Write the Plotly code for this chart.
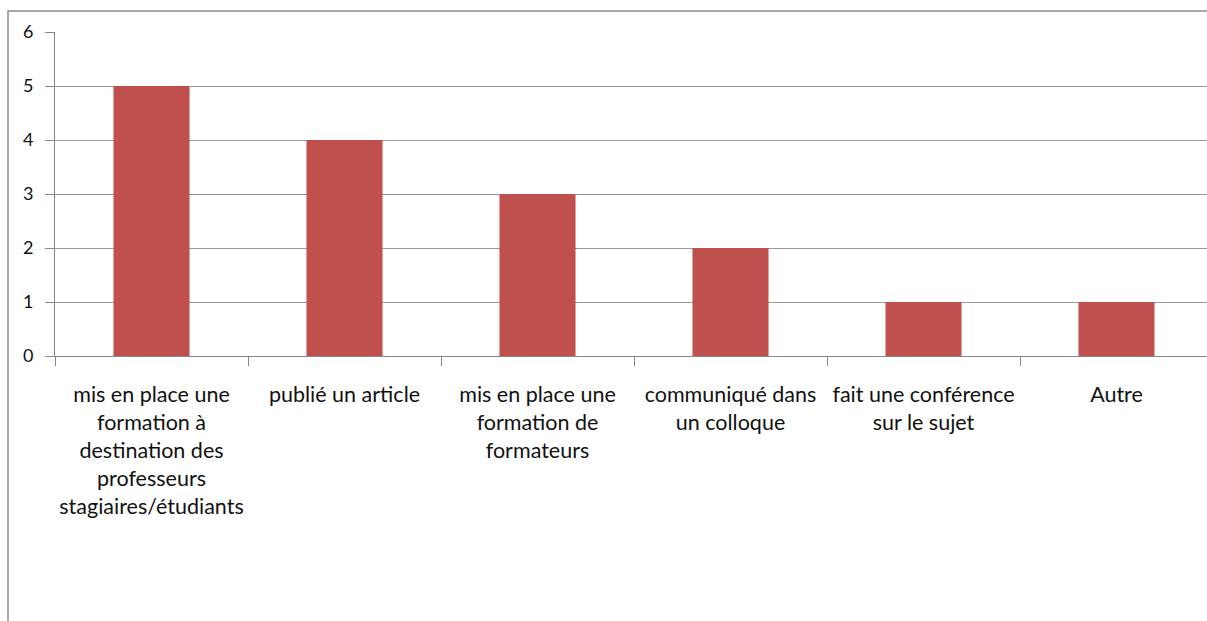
import plotly.graph_objects as go

categories = [
    "mis en place une<br>formation à<br>destination des<br>professeurs<br>stagiaires/étudiants",
    "publié un article",
    "mis en place une<br>formation de<br>formateurs",
    "communiqué dans<br>un colloque",
    "fait une conférence<br>sur le sujet",
    "Autre",
]
values = [5, 4, 3, 2, 1, 1]
y_ticks = [0, 1, 2, 3, 4, 5, 6]

W, H = 1207, 621
L, R, T, B = 55, 0, 32, 265
pw, ph = W - L - R, H - T - B

fig = go.Figure()
fig.add_trace(go.Bar(x=categories, y=values, marker=dict(color="#C0504D", line=dict(width=0))))

xfont = dict(family="Lato, Open Sans, sans-serif", size=21.5, color="#111111")
yfont = dict(family="Lato, Open Sans, sans-serif", size=18, color="#111111")

fig.update_layout(
    width=W, height=H,
    margin=dict(l=L, r=R, t=T, b=B, pad=0),
    paper_bgcolor="white", plot_bgcolor="white",
    bargap=0.606,
    showlegend=False,
    font=xfont,
    xaxis=dict(
        type="category",
        range=[-0.5, -0.5 + pw / 193.0],
        tickson="boundaries",
        ticks="outside", ticklen=9, tickcolor="#868686", tickwidth=1,
        showline=True, linecolor="#868686", linewidth=1,
        showgrid=False, tickangle=0,
        tickfont=xfont,
        ticklabelstandoff=19,
    ),
    yaxis=dict(
        range=[0, 6], tickvals=y_ticks,
        ticks="outside", ticklen=9, tickcolor="#868686", tickwidth=1,
        showline=True, linecolor="#868686", linewidth=1,
        showgrid=True, gridcolor="#9a9a9a", gridwidth=1,
        zeroline=False,
        tickfont=yfont,
        ticklabelstandoff=8,
    ),
)

# outer chart border (cropped on the right and bottom in the reference)
fig.add_shape(
    type="rect", xref="paper", yref="paper",
    x0=(8 - L) / pw, x1=(W + 30 - L) / pw,
    y0=(ph + T - (H + 30)) / ph, y1=1 + (T - 11) / ph,
    line=dict(color="#8a8a8a", width=1.5), layer="below",
)

fig.write_html(
    "out.html",
    config={"responsive": False, "displayModeBar": False},
    post_script="document.body.style.margin='0';document.body.style.overflow='hidden';"
                "document.documentElement.style.overflow='hidden';",
)
